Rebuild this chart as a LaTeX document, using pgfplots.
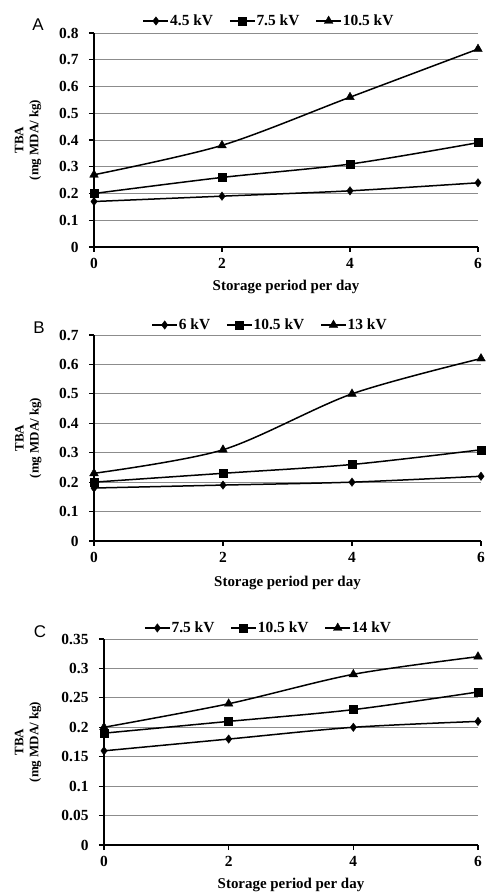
\documentclass[border=0pt]{standalone}
\usepackage{pgfplots}
\pgfplotsset{compat=1.18}
\usepackage{fontspec}
\setmainfont{Liberation Serif}
\newfontfamily\panelfont{Liberation Sans}
\begin{document}
\begin{tikzpicture}
\useasboundingbox (0,0) rectangle (486bp,894bp);
\pgfplotsset{
  panel/.style={
    scale only axis, xmin=0, xmax=6, ymin=0, xtick={0,2,4,6},
    axis x line=bottom, axis y line=left,
    axis line style={line width=1.6bp,-},
    ymajorgrids, grid style={black!45, line width=0.8bp},
    tick align=outside, major tick length=5bp, tick style={black,line width=1.2bp},
    /pgf/number format/assume math mode=true,
    /pgf/number format/fixed, /pgf/number format/precision=2,
    xticklabel={\pgfmathprintnumber[assume math mode=true]{\tick}},
    yticklabel={\pgfmathprintnumber[assume math mode=true]{\tick}},
    xticklabel style={font=\bfseries\fontsize{15.5}{15.5}\selectfont, yshift=-3bp},
    yticklabel style={font=\bfseries\fontsize{15.5}{15.5}\selectfont, xshift=-7bp},
    xlabel={Storage period per day},
    ylabel={TBA\\(mg MDA/ kg)},
    xlabel style={font=\bfseries\fontsize{15}{15}\selectfont, at={(axis description cs:0.5,0)}, anchor=center, yshift=-40bp},
    ylabel style={font=\bfseries\fontsize{13}{15}\selectfont, align=center, anchor=center},
    legend columns=3,
    legend style={draw=none, fill=none, font=\bfseries\fontsize{15.5}{15.5}\selectfont, anchor=center,
      inner sep=0pt, /tikz/every odd column/.append style={column sep=-1bp},
      /tikz/every even column/.append style={column sep=14bp}},
    legend image code/.code={\draw[mark repeat=2, mark phase=2, #1] plot coordinates {(0,0) (0.44cm,0) (0.88cm,0)};},
    every axis plot/.append style={black, line width=1.5bp, smooth, tension=0.5},
    clip=false,
  },
  m1/.style={mark=diamond*, mark size=4.2bp, mark options={solid, line width=0.4bp}},
  m2/.style={mark=square*, mark size=4bp, mark options={solid, line width=0.4bp}},
  m3/.style={mark=triangle*, mark size=5bp, mark options={solid, line width=0.4bp}},
}
% Panel A
\begin{axis}[panel, at={(94bp,647bp)}, anchor=south west, width=384bp, height=214bp,
  ymax=0.8, ytick={0,0.1,0.2,0.3,0.4,0.5,0.6,0.7,0.8},
  ylabel style={at={(axis description cs:-0.172,0.5)}},
  legend style={at={(axis description cs:0.456,1)}, yshift=12bp}]
\addplot[m1] coordinates {(0,0.17) (2,0.19) (4,0.21) (6,0.24)};
\addlegendentry{4.5 kV}
\addplot[m2] coordinates {(0,0.20) (2,0.26) (4,0.31) (6,0.39)};
\addlegendentry{7.5 kV}
\addplot[m3] coordinates {(0,0.27) (2,0.38) (4,0.56) (6,0.74)};
\addlegendentry{10.5 kV}
\end{axis}
% Panel B
\begin{axis}[panel, at={(94bp,353bp)}, anchor=south west, width=387bp, height=206bp,
  ymax=0.7, ytick={0,0.1,0.2,0.3,0.4,0.5,0.6,0.7},
  ylabel style={at={(axis description cs:-0.17,0.5)}},
  xlabel style={yshift=-2bp},
  legend style={at={(axis description cs:0.455,1)}, yshift=10bp}]
\addplot[m1] coordinates {(0,0.18) (2,0.19) (4,0.20) (6,0.22)};
\addlegendentry{6 kV}
\addplot[m2] coordinates {(0,0.20) (2,0.23) (4,0.26) (6,0.31)};
\addlegendentry{10.5 kV}
\addplot[m3] coordinates {(0,0.23) (2,0.31) (4,0.50) (6,0.62)};
\addlegendentry{13 kV}
\end{axis}
% Panel C
\begin{axis}[panel, at={(104bp,49bp)}, anchor=south west, width=374bp, height=206bp,
  ymax=0.35, ytick={0,0.05,0.1,0.15,0.2,0.25,0.3,0.35},
  ylabel style={at={(axis description cs:-0.203,0.5)}},
  legend style={at={(axis description cs:0.44,1)}, yshift=11bp}]
\addplot[m1] coordinates {(0,0.16) (2,0.18) (4,0.20) (6,0.21)};
\addlegendentry{7.5 kV}
\addplot[m2] coordinates {(0,0.19) (2,0.21) (4,0.23) (6,0.26)};
\addlegendentry{10.5 kV}
\addplot[m3] coordinates {(0,0.20) (2,0.24) (4,0.29) (6,0.32)};
\addlegendentry{14 kV}
\end{axis}
\node[font=\panelfont\fontsize{17}{17}\selectfont] at (38bp,869bp) {A};
\node[font=\panelfont\fontsize{17}{17}\selectfont] at (39bp,566bp) {B};
\node[font=\panelfont\fontsize{17}{17}\selectfont] at (40bp,262bp) {C};
\end{tikzpicture}
\end{document}
